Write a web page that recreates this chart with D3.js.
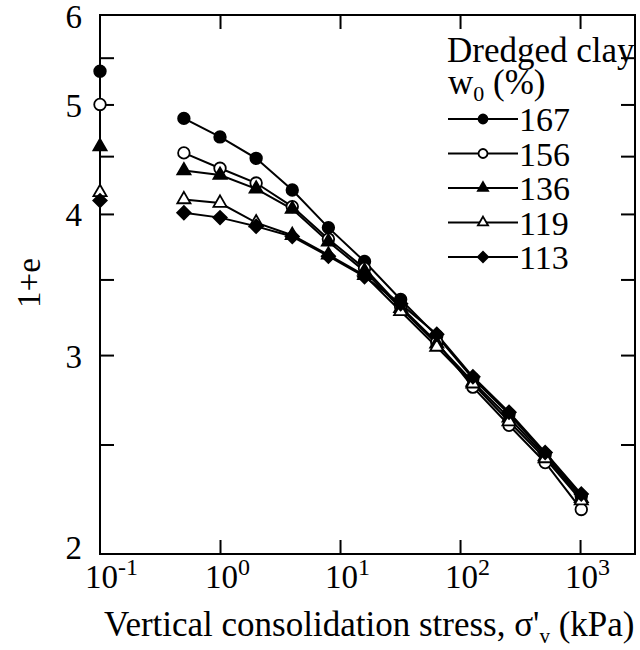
<!DOCTYPE html>
<html>
<head>
<meta charset="utf-8">
<script src="https://cdn.jsdelivr.net/npm/d3@7"></script>
<style>
  body { margin: 0; background: #fff; }
  svg { display: block; font-family: "Liberation Serif", "Times New Roman", serif; }
</style>
</head>
<body>
<div id="app"></div>
<script>
// vertical consolidation stress (kPa), loading steps
const stress = [0.5, 1, 2, 4, 8, 16, 32, 64, 128, 256, 512, 1024];
// initial state plotted on the left axis
const stress0 = 0.1;
const labels = ['167', '156', '136', '119', '113'];
const initial = [5.35, 5.00, 4.59, 4.18, 4.11];
const w167 = [4.86, 4.68, 4.48, 4.20, 3.89, 3.63, 3.36, 3.12, 2.86, 2.66, 2.45, 2.25];
const w156 = [4.53, 4.39, 4.26, 4.06, 3.80, 3.58, 3.31, 3.08, 2.81, 2.60, 2.41, 2.19];
const w136 = [4.37, 4.33, 4.21, 4.04, 3.78, 3.56, 3.30, 3.07, 2.84, 2.64, 2.44, 2.24];
const w119 = [4.12, 4.09, 3.93, 3.83, 3.68, 3.53, 3.28, 3.05, 2.83, 2.62, 2.43, 2.23];
const w113 = [4.01, 3.97, 3.90, 3.82, 3.67, 3.52, 3.33, 3.13, 2.87, 2.67, 2.46, 2.26];
const xTicks = [1, 10, 100, 1000];
const xLabels = [-1, 0, 1, 2, 3];
const yTicks = [2.5, 3, 3.5, 4, 4.5, 5, 5.5];
const yLabels = [2, 3, 4, 5, 6];

const series = [w167, w156, w136, w119, w113];
// marker style per series: symbol + filled?
const markers = [
  { type: d3.symbolCircle, size: 105, fill: '#000', rot: 0 },
  { type: d3.symbolCircle, size: 105, fill: '#fff', rot: 0 },
  { type: d3.symbolTriangle, size: 75, fill: '#000', rot: 0 },
  { type: d3.symbolTriangle, size: 75, fill: '#fff', rot: 0 },
  { type: d3.symbolSquare, size: 90, fill: '#000', rot: 45 }
];

const width = 640, height = 650;
const margin = { top: 15, right: 5, bottom: 96, left: 100 };
const iw = width - margin.left - margin.right;
const ih = height - margin.top - margin.bottom;

const svg = d3.select('#app').append('svg').attr('width', width).attr('height', height);
const g = svg.append('g').attr('transform', `translate(${margin.left},${margin.top})`);

const x = d3.scaleLog().domain([0.1, 2870]).range([0, iw]);
const y = d3.scaleLog().domain([2, 6]).range([ih, 0]);

// axes, ticks pointing inward on all four sides
const tickLen = 14;
g.append('g').attr('transform', `translate(0,${ih})`)
  .call(d3.axisBottom(x).tickValues(xTicks).tickSize(-tickLen).tickFormat(''));
g.append('g')
  .call(d3.axisTop(x).tickValues(xTicks).tickSize(-tickLen).tickFormat(''));
g.append('g')
  .call(d3.axisLeft(y).tickValues(yTicks).tickSize(-tickLen).tickFormat(''));
g.append('g').attr('transform', `translate(${iw},0)`)
  .call(d3.axisRight(y).tickValues(yTicks).tickSize(-tickLen).tickFormat(''));
g.selectAll('.domain').remove();
g.selectAll('.tick line').attr('stroke', '#000').attr('stroke-width', 2);

g.append('rect').attr('width', iw).attr('height', ih)
  .attr('fill', 'none').attr('stroke', '#000').attr('stroke-width', 2);

// y tick labels
g.selectAll('.ylab').data(yLabels).enter().append('text')
  .attr('x', -18).attr('y', d => y(d) - (d === 2 ? 8 : 0)).attr('dy', '0.38em')
  .attr('text-anchor', 'end').attr('font-size', '33px').text(d => d);

// x tick labels 10^n
const xl = g.selectAll('.xlab').data(xLabels).enter().append('text')
  .attr('x', d => x(Math.pow(10, d)) - 15).attr('y', ih + 34)
  .attr('font-size', '33px');
xl.append('tspan').text('10');
xl.append('tspan').attr('dy', -13).attr('font-size', '24px').text(d => d);

// axis titles
const xt = svg.append('text').attr('x', 104).attr('y', 636).attr('font-size', '35px');
xt.append('tspan').text('Vertical consolidation stress, σ\'');
xt.append('tspan').attr('dy', 7).attr('font-size', '21px').text('v');
xt.append('tspan').attr('dy', -7).text(' (kPa)');

svg.append('text').attr('transform', 'translate(40,283) rotate(-90)')
  .attr('text-anchor', 'middle').attr('font-size', '33px').text('1+e');

// data lines
const line = d3.line().x((d, i) => x(stress[i])).y(d => y(d));
series.forEach(s => {
  g.append('path').datum(s).attr('d', line)
    .attr('fill', 'none').attr('stroke', '#000').attr('stroke-width', 2);
});

// markers
function drawMarker(sel, m, px, py, scale) {
  sel.append('path')
    .attr('d', d3.symbol().type(m.type).size(m.size * scale)())
    .attr('transform', `translate(${px},${py}) rotate(${m.rot})`)
    .attr('fill', m.fill).attr('stroke', '#000').attr('stroke-width', 1.8);
}
series.forEach((s, k) => {
  s.forEach((v, i) => drawMarker(g, markers[k], x(stress[i]), y(v), 1));
  drawMarker(g, markers[k], x(stress0), y(initial[k]), 1);
});

// legend
const lg = svg.append('g');
lg.append('text').attr('x', 447).attr('y', 62).attr('font-size', '35px').text('Dredged clay');
const wt = lg.append('text').attr('x', 448).attr('y', 94).attr('font-size', '35px');
wt.append('tspan').text('w');
wt.append('tspan').attr('dy', 7).attr('font-size', '22px').text('0');
wt.append('tspan').attr('dy', -7).text(' (%)');
labels.forEach((lab, k) => {
  const ly = 119 + k * 34.5;
  lg.append('line').attr('x1', 448).attr('x2', 518).attr('y1', ly).attr('y2', ly)
    .attr('stroke', '#000').attr('stroke-width', 2);
  drawMarker(lg, markers[k], 483, ly, 0.6);
  lg.append('text').attr('x', 519).attr('y', ly).attr('dy', '0.36em')
    .attr('font-size', '34px').text(lab);
});
</script>
</body>
</html>
